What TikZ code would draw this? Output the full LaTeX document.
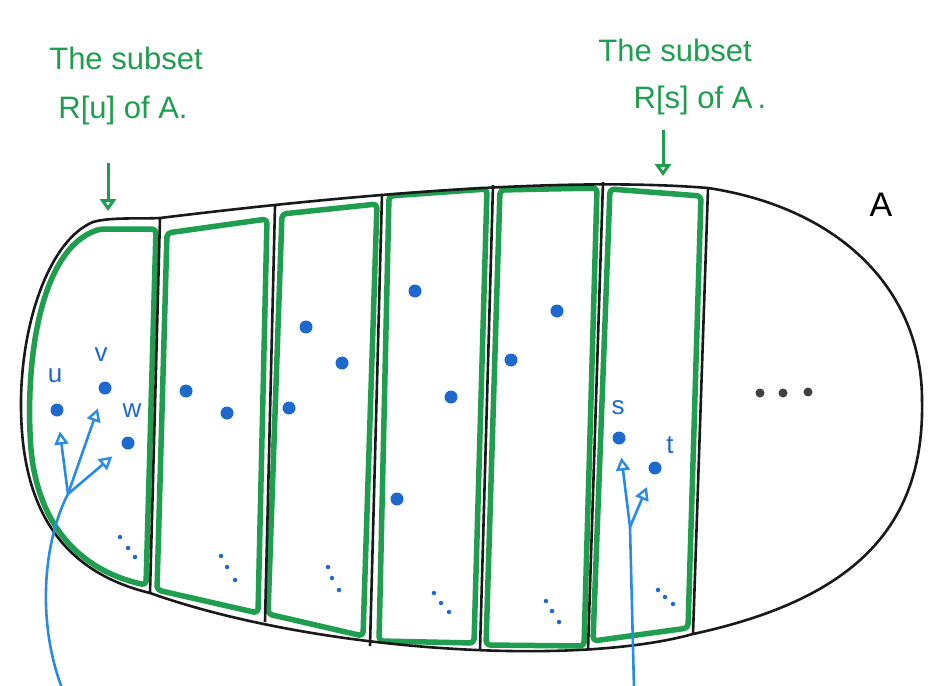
\documentclass[tikz,border=0pt]{standalone}
\usepackage{fontspec}
\setmainfont{Liberation Sans}
\usetikzlibrary{arrows.meta}
\definecolor{hgreen}{RGB}{30,158,78}
\definecolor{hblue}{RGB}{30,105,205}
\definecolor{ablue}{RGB}{40,140,230}
\tikzset{
  outline/.style={black!90, line width=2.6pt},
  greenbox/.style={hgreen, line width=5.5pt, rounded corners=4pt, line join=round},
  bdot/.style={circle, fill=hblue, draw=none, minimum size=13pt, inner sep=0pt},
  sdot/.style={circle, fill=hblue, draw=none, minimum size=4.5pt, inner sep=0pt},
  kdot/.style={circle, fill=black!75, draw=none, minimum size=9pt, inner sep=0pt},
  blbl/.style={text=hblue, font=\fontsize{26}{28}\selectfont, inner sep=0pt},
  glbl/.style={text=hgreen, font=\fontsize{31}{34}\selectfont, inner sep=0pt},
  barrow/.style={ablue, line width=2.6pt, -{Triangle[open, length=13pt, width=14pt, line width=2.4pt]}},
  garrow/.style={hgreen, line width=3pt, -{Triangle[open, length=12pt, width=16pt, line width=3pt]}},
}
\begin{document}
\begin{tikzpicture}[x=1pt, y=-1pt]
\useasboundingbox (0,0) rectangle (928,685);
\fill[white] (0,0) rectangle (928,685);

% green boxes
\draw[greenbox] (156,229) -- (146,585) .. controls (100,575) and (42,545) .. (31,450)
  .. controls (25,360) and (40,250) .. (100,229) -- cycle;
\draw[greenbox] (167,233) -- (267,219) -- (258,613) -- (157,590) -- cycle;
\draw[greenbox] (282,214) -- (377,204) -- (363,636) -- (268,614) -- cycle;
\draw[greenbox] (389,196) -- (487,189) -- (474,643) -- (379,641) -- cycle;
\draw[greenbox] (500,190) -- (597,188) -- (584,646) -- (486,645) -- cycle;
\draw[greenbox] (610,189) -- (701,196) -- (688,628) -- (593,641) -- cycle;

% outline of A
\draw[outline] (160,218) .. controls (340,196) and (560,176) .. (708,188)
  .. controls (840,208) and (922,290) .. (922,400)
  .. controls (925,530) and (850,600) .. (693,634)
  .. controls (570,668) and (310,650) .. (150,593)
  .. controls (55,570) and (20,500) .. (21,400)
  .. controls (22,320) and (50,240) .. (93,222)
  .. controls (110,217) and (140,219) .. (160,218) -- cycle;
% dividers
\draw[outline] (160,218) -- (150,593);
\draw[outline] (275,206) -- (265,622);
\draw[outline] (382,194) -- (370,646);
\draw[outline] (493,185) -- (480,650);
\draw[outline] (603,182) -- (588,650);
\draw[outline] (708,188) -- (693,634);

% dots column 1
\node[bdot] (u) at (57,410) {};
\node[bdot] (v) at (105,388) {};
\node[bdot] (w) at (128,443) {};
\node[blbl] (ul) at (55,376) {u};
\node[blbl] (vl) at (101,355) {v};
\node[blbl] (wl) at (132,411) {w};
\node[sdot] (e1a) at (120,537) {};
\node[sdot] (e1b) at (128,548) {};
\node[sdot] (e1c) at (135,557) {};
% column 2
\node[bdot] (c2a) at (186,391) {};
\node[bdot] (c2b) at (227,413) {};
\node[sdot] (e2a) at (221,556) {};
\node[sdot] (e2b) at (227,567) {};
\node[sdot] (e2c) at (235,580) {};
% column 3
\node[bdot] (c3a) at (306,327) {};
\node[bdot] (c3b) at (342,363) {};
\node[bdot] (c3c) at (289,408) {};
\node[sdot] (e3a) at (328,567) {};
\node[sdot] (e3b) at (332,578) {};
\node[sdot] (e3c) at (339,590) {};
% column 4
\node[bdot] (c4a) at (415,291) {};
\node[bdot] (c4b) at (451,397) {};
\node[bdot] (c4c) at (397,499) {};
\node[sdot] (e4a) at (434,593) {};
\node[sdot] (e4b) at (441,603) {};
\node[sdot] (e4c) at (449,612) {};
% column 5
\node[bdot] (c5a) at (557,311) {};
\node[bdot] (c5b) at (511,360) {};
\node[sdot] (e5a) at (546,601) {};
\node[sdot] (e5b) at (552,611) {};
\node[sdot] (e5c) at (559,622) {};
% column 6
\node[bdot] (s) at (619,438) {};
\node[bdot] (t) at (655,468) {};
\node[blbl] (sl) at (618,408) {s};
\node[blbl] (tl) at (670,445) {t};
\node[sdot] (e6a) at (658,590) {};
\node[sdot] (e6b) at (665,597) {};
\node[sdot] (e6c) at (673,604) {};
% black dots
\node[kdot] (k1) at (760,393) {};
\node[kdot] (k2) at (783,393) {};
\node[kdot] (k3) at (808,392) {};

% label A
\node[font=\fontsize{34}{36}\selectfont, inner sep=0pt] (A) at (881,205) {A};

% blue arrows
\coordinate (b1) at (62,688);
\coordinate (j1) at (68,494);
\draw[ablue, line width=2.6pt] (b1) .. controls (36,620) and (44,540) .. (j1);
\draw[barrow, shorten >=15pt] (j1) -- (u);
\draw[barrow, shorten >=15pt] (j1) -- (v);
\draw[barrow, shorten >=14pt] (j1) -- (w);
\coordinate (b2) at (634,688);
\coordinate (j2) at (630,527);
\draw[ablue, line width=2.6pt] (b2) -- (j2);
\draw[barrow, shorten >=13pt] (j2) -- (s);
\draw[barrow, shorten >=14pt] (j2) -- (t);

% green labels
\node[glbl] (L1a) at (126,58) {The subset};
\node[glbl] (L1b) at (123,110) {R[u] of A.};
\node[glbl] (L2a) at (675,50) {The subset};
\node[glbl] (L2b) at (700,100) {R[s] of A\,.};
\coordinate (g1s) at (108,163);
\coordinate (g1e) at (108,211);
\draw[garrow] (g1s) -- (g1e);
\coordinate (g2s) at (663,130);
\coordinate (g2e) at (663,176);
\draw[garrow] (g2s) -- (g2e);
\end{tikzpicture}
\end{document}
